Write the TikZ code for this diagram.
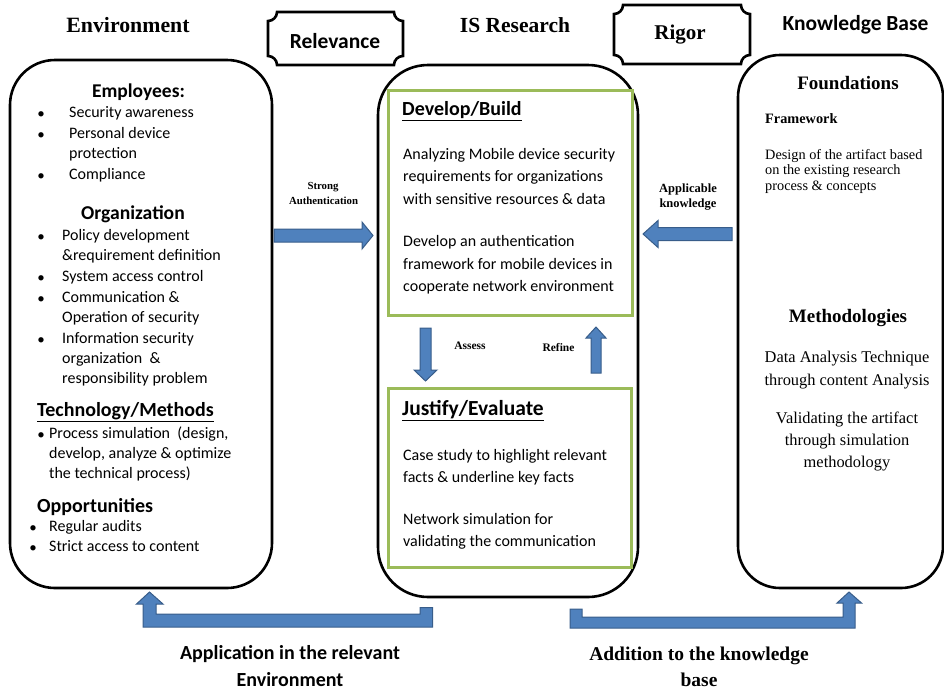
\documentclass[tikz,border=0pt]{standalone}
\usepackage{fontspec}
\setmainfont{Liberation Serif}
\newfontfamily\calf{Carlito}
\definecolor{arrfill}{HTML}{4F81BD}
\definecolor{arrdraw}{HTML}{385D8A}
\definecolor{gboxc}{HTML}{9BBB59}
\newcommand\plaquepath[5]{% x0 y0 x1 y1 r
  (#1+#5,#2) -- (#3-#5,#2) .. controls (#3-#5,#2+0.55*#5) and (#3-0.55*#5,#2+#5) .. (#3,#2+#5)
  -- (#3,#4-#5) .. controls (#3-0.55*#5,#4-#5) and (#3-#5,#4-0.55*#5) .. (#3-#5,#4)
  -- (#1+#5,#4) .. controls (#1+#5,#4-0.55*#5) and (#1+0.55*#5,#4-#5) .. (#1,#4-#5)
  -- (#1,#2+#5) .. controls (#1+0.55*#5,#2+#5) and (#1+#5,#2+0.55*#5) .. (#1+#5,#2) -- cycle}
\tikzset{
  bigbox/.style={draw, line width=2.6pt, rounded corners=45pt, inner sep=0},
  greenbox/.style={draw=gboxc, line width=3pt, inner sep=0},
  plaq/.style={draw, line width=2.6pt, fill=white},
  barrow/.style={fill=arrfill, draw=arrdraw, line width=1pt, line join=miter},
  tx/.style={inner sep=0, anchor=west, font=\calf\fontsize{16}{18}\selectfont, text height=1.5ex, text depth=.25ex},
  bul/.style={inner sep=0, anchor=center, font=\calf\fontsize{15}{16}\selectfont},
  hd/.style={inner sep=0, font=\calf\bfseries\fontsize{20}{22}\selectfont},
  ttl/.style={inner sep=0, font=\bfseries\fontsize{21.5}{23}\selectfont},
  rs/.style={inner sep=0, anchor=west, font=\fontsize{14.3}{16}\selectfont, text height=1.5ex, text depth=.25ex},
  rc/.style={inner sep=0, font=\fontsize{16.4}{18}\selectfont, text height=1.5ex, text depth=.25ex},
  sm/.style={inner sep=0, font=\bfseries\fontsize{11.5}{13}\selectfont},
}
\begin{document}
\begin{tikzpicture}[x=1pt,y=-1pt]
\useasboundingbox (0,0) rectangle (944,691);

% ---------- big boxes ----------
\node[bigbox, minimum width=262, minimum height=528] (env) at (141,324) {};
\node[bigbox, minimum width=260, minimum height=532, rounded corners=50pt] (isr) at (508,331) {};
\node[bigbox, minimum width=205, minimum height=533, rounded corners=42pt] (kb) at (840.5,321.5) {};

% ---------- green boxes ----------
\node[greenbox, minimum width=244, minimum height=225] (dev) at (510,202.5) {};
\node[greenbox, minimum width=243, minimum height=179] (jus) at (509.5,477.5) {};

% ---------- plaques ----------
\draw[plaq] \plaquepath{268}{12}{403}{65}{9};
\node[inner sep=0, font=\calf\bfseries\fontsize{21.5}{23}\selectfont] (rel) at (335,41) {Relevance};
\draw[plaq] \plaquepath{614}{5}{750}{64}{9};
\node[ttl, font=\bfseries\fontsize{21}{23}\selectfont] (rig) at (680,35) {Rigor};

% ---------- headings ----------
\node[ttl, font=\bfseries\fontsize{21.8}{23}\selectfont] (henv) at (128,25) {Environment};
\node[ttl] (hisr) at (515,25) {IS Research};
\node[inner sep=0, font=\calf\bfseries\fontsize{21.5}{23}\selectfont] (hkb) at (855.5,25) {Knowledge Base};

% ---------- left box content ----------
\node[hd, font=\calf\bfseries\fontsize{19.5}{21}\selectfont] (emp) at (138.5,92) {Employees:};
\node[bul] (b1) at (41,115) {•}; \node[tx] (e1) at (69,115) {Security awareness};
\node[bul] (b2) at (41,136) {•}; \node[tx] (e2) at (69,136) {Personal device};
\node[tx] (e3) at (69,156) {protection};
\node[bul] (b3) at (41,177) {•}; \node[tx] (e4) at (69,177) {Compliance};
\node[hd, font=\calf\bfseries\fontsize{19.6}{21}\selectfont] (org) at (133,214) {Organization};
\node[bul] (b4) at (41,238) {•}; \node[tx] (o1) at (62,238) {Policy development};
\node[tx] (o2) at (62,258) {\&requirement definition};
\node[bul] (b5) at (41,279) {•}; \node[tx] (o3) at (62,279) {System access control};
\node[bul] (b6) at (41,300) {•}; \node[tx] (o4) at (62,300) {Communication \&};
\node[tx] (o5) at (62,320) {Operation of security};
\node[bul] (b7) at (41,341) {•}; \node[tx] (o6) at (62,341) {Information security};
\node[tx] (o7) at (62,361) {organization~ \&};
\node[tx] (o8) at (62,381) {responsibility problem};
\node[hd, anchor=west] (tech) at (37,412) {\underline{Technology/Methods}};
\node[bul] (b8) at (41,436) {•}; \node[tx] (t1) at (49,436) {Process simulation~ (design,};
\node[tx] (t2) at (49,456) {develop, analyze \& optimize};
\node[tx] (t3) at (49,476) {the technical process)};
\node[hd, anchor=west] (opp) at (37,507) {Opportunities};
\node[bul] (b9) at (33,529) {•}; \node[tx] (p1) at (49,529) {Regular audits};
\node[bul] (b10) at (33,549) {•}; \node[tx] (p2) at (49,549) {Strict access to content};

% ---------- center content ----------
\node[hd, anchor=west] (devt) at (402,111) {\underline{Develop/Build}};
\node[tx] (d1) at (403,157) {Analyzing Mobile device security};
\node[tx] (d2) at (403,179) {requirements for organizations};
\node[tx] (d3) at (403,202) {with sensitive resources \& data};
\node[tx] (d4) at (403,244) {Develop an authentication};
\node[tx] (d5) at (403,267) {framework for mobile devices in};
\node[tx] (d6) at (403,289) {cooperate network environment};
\node[hd, anchor=west, font=\calf\bfseries\fontsize{21.5}{23}\selectfont] (just) at (402,411) {\underline{Justify/Evaluate}};
\node[tx] (j1) at (403,458) {Case study to highlight relevant};
\node[tx] (j2) at (403,480) {facts \& underline key facts};
\node[tx] (j3) at (403,522) {Network simulation for};
\node[tx] (j4) at (403,544) {validating the communication};

% ---------- right content ----------
\node[ttl, font=\bfseries\fontsize{19}{21}\selectfont] (fnd) at (848,83) {Foundations};
\node[rs, font=\bfseries\fontsize{14.3}{16}\selectfont] (fw) at (765,121) {Framework};
\node[rs] (r1) at (765,157) {Design of the artifact based};
\node[rs] (r2) at (765,172) {on the existing research};
\node[rs] (r3) at (765,188) {process \& concepts};
\node[ttl, font=\bfseries\fontsize{19}{21}\selectfont] (meth) at (848,318) {Methodologies};
\node[rc] (m1) at (847,360) {Data Analysis Technique};
\node[rc] (m2) at (847,383) {through content Analysis};
\node[rc] (m3) at (847,421) {Validating the artifact};
\node[rc] (m4) at (847,443) {through simulation};
\node[rc] (m5) at (847,465) {methodology};

% ---------- block arrows ----------
% Strong Authentication (env -> isr)
\draw[barrow] (274,229) -- (362,229) -- (362,222) -- (373,235.5) -- (362,249) -- (362,242) -- (274,242) -- cycle;
\node[sm, font=\bfseries\fontsize{10.8}{12}\selectfont] (sa1) at (323,187) {Strong};
\node[sm, font=\bfseries\fontsize{10.8}{12}\selectfont] (sa2) at (323.5,201) {Authentication};
% Applicable knowledge (kb -> isr)
\draw[barrow] (732,227.5) -- (658,227.5) -- (658,220.5) -- (643,234) -- (658,247.5) -- (658,240.5) -- (732,240.5) -- cycle;
\node[sm, font=\bfseries\fontsize{12.5}{14}\selectfont] (ak1) at (688,189) {Applicable};
\node[sm, font=\bfseries\fontsize{12.5}{14}\selectfont] (ak2) at (688,205) {knowledge};
% Assess (dev -> jus)
\draw[barrow] (420,328) -- (431,328) -- (431,370) -- (437,370) -- (425.5,381) -- (414,370) -- (420,370) -- cycle;
\node[sm] (as) at (470,346) {Assess};
% Refine (jus -> dev)
\draw[barrow] (591,373) -- (601,373) -- (601,338) -- (606,338) -- (596,327) -- (586,338) -- (591,338) -- cycle;
\node[sm] (rf) at (558.5,347) {Refine};
% bottom left: isr -> env
\draw[barrow] (432.5,607.5) -- (432.5,627) -- (143,627) -- (143,604) -- (136.5,604) -- (149.5,592) -- (163,604) -- (156,604) -- (156,614) -- (420,614) -- (420,607.5) -- cycle;
% bottom right: isr -> kb
\draw[barrow] (570,609) -- (582,609) -- (582,617) -- (843,617) -- (843,603) -- (837,603) -- (849,592) -- (861.5,603) -- (855,603) -- (855,628) -- (570,628) -- cycle;

% ---------- bottom labels ----------
\node[hd] (ap1) at (290,654) {Application in the relevant};
\node[hd] (ap2) at (290,680) {Environment};
\node[ttl, font=\bfseries\fontsize{19.5}{21}\selectfont] (ad1) at (699,656) {Addition to the knowledge};
\node[ttl, font=\bfseries\fontsize{19.5}{21}\selectfont] (ad2) at (699,680) {base};
\end{tikzpicture}
\end{document}
